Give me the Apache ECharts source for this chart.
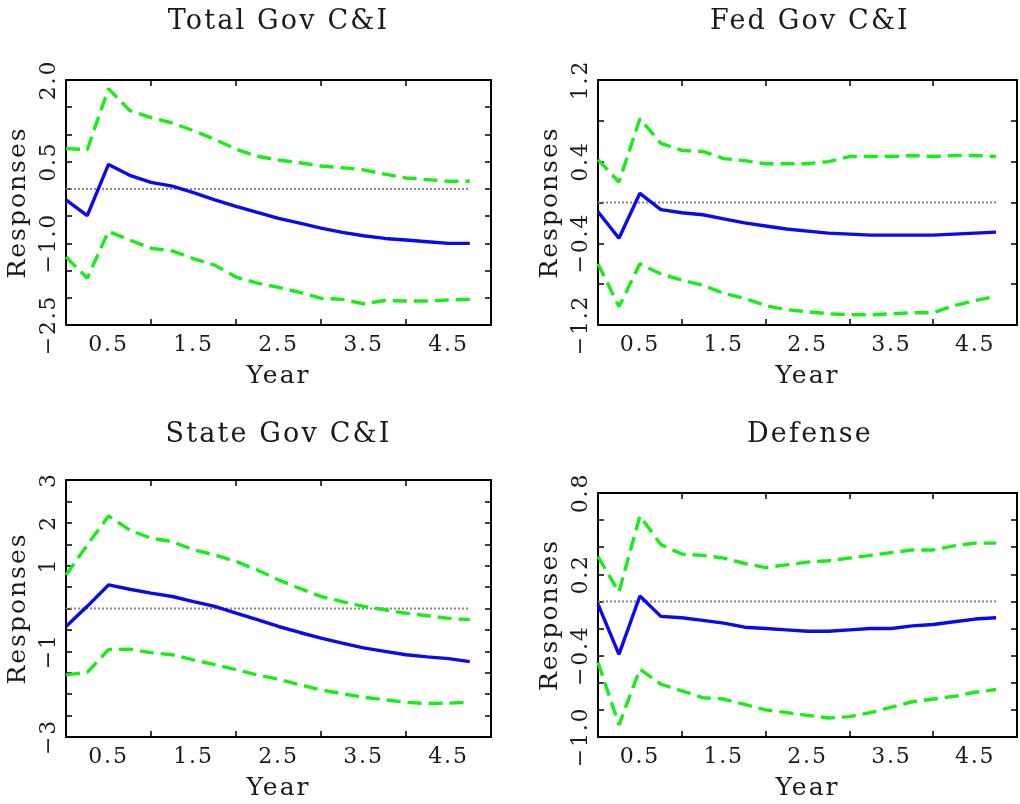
<!DOCTYPE html>
<html>
<head>
<meta charset="utf-8">
<script src="https://cdn.jsdelivr.net/npm/echarts@6/dist/echarts.min.js"></script>
<style>
  html, body { margin: 0; padding: 0; background: #ffffff; }
  #chart { width: 1020px; height: 804px; }
</style>
</head>
<body>
<div id="chart"></div>
<script>
// Quarterly horizon (years after the shock)
const quarters = [0, 0.25, 0.5, 0.75, 1, 1.25, 1.5, 1.75, 2, 2.25, 2.5, 2.75, 3, 3.25, 3.5, 3.75, 4, 4.25, 4.5, 4.75];

const panelTitles = ['Total Gov C&I', 'Fed Gov C&I', 'State Gov C&I', 'Defense'];

// Total government consumption & investment
const totalMid   = [-0.20, -0.49, 0.45, 0.25, 0.12, 0.05, -0.07, -0.20, -0.32, -0.43, -0.54, -0.63, -0.72, -0.80, -0.86, -0.91, -0.94, -0.97, -1.00, -1.00];
const totalUpper = [0.74, 0.72, 1.84, 1.44, 1.31, 1.21, 1.07, 0.91, 0.73, 0.60, 0.53, 0.48, 0.42, 0.39, 0.35, 0.27, 0.20, 0.17, 0.14, 0.14];
const totalLower = [-1.25, -1.64, -0.78, -0.94, -1.09, -1.14, -1.28, -1.40, -1.62, -1.73, -1.81, -1.90, -2.01, -2.03, -2.11, -2.05, -2.06, -2.06, -2.04, -2.03];

// Federal government consumption & investment
const fedMid   = [-0.09, -0.35, 0.09, -0.07, -0.10, -0.12, -0.16, -0.20, -0.23, -0.26, -0.28, -0.30, -0.31, -0.32, -0.32, -0.32, -0.32, -0.31, -0.30, -0.29];
const fedUpper = [0.42, 0.20, 0.82, 0.58, 0.51, 0.50, 0.43, 0.41, 0.38, 0.38, 0.38, 0.40, 0.45, 0.45, 0.45, 0.46, 0.45, 0.46, 0.46, 0.45];
const fedLower = [-0.60, -1.02, -0.60, -0.70, -0.76, -0.81, -0.89, -0.94, -1.01, -1.05, -1.07, -1.09, -1.10, -1.10, -1.09, -1.08, -1.08, -1.01, -0.96, -0.92];

// State government consumption & investment
const stateMid   = [-0.42, 0.05, 0.55, 0.45, 0.36, 0.28, 0.16, 0.05, -0.11, -0.26, -0.42, -0.56, -0.69, -0.81, -0.92, -1.00, -1.08, -1.13, -1.17, -1.24];
const stateUpper = [0.78, 1.48, 2.16, 1.83, 1.64, 1.56, 1.37, 1.25, 1.10, 0.90, 0.67, 0.47, 0.28, 0.16, 0.05, -0.03, -0.11, -0.17, -0.23, -0.26];
const stateLower = [-1.55, -1.49, -0.96, -0.95, -1.03, -1.08, -1.20, -1.31, -1.43, -1.55, -1.65, -1.78, -1.90, -1.99, -2.07, -2.13, -2.19, -2.22, -2.21, -2.19];

// Defense spending
const defMid   = [-0.02, -0.39, 0.04, -0.11, -0.12, -0.14, -0.16, -0.19, -0.20, -0.21, -0.22, -0.22, -0.21, -0.20, -0.20, -0.18, -0.17, -0.15, -0.13, -0.12];
const defUpper = [0.33, 0.07, 0.63, 0.42, 0.35, 0.34, 0.32, 0.28, 0.25, 0.27, 0.29, 0.30, 0.32, 0.34, 0.36, 0.38, 0.38, 0.41, 0.43, 0.43];
const defLower = [-0.45, -0.91, -0.50, -0.61, -0.66, -0.71, -0.72, -0.76, -0.80, -0.82, -0.84, -0.86, -0.85, -0.82, -0.78, -0.74, -0.72, -0.70, -0.67, -0.65];

// Tick labels
const xTickLabels = [0.5, 1.5, 2.5, 3.5, 4.5];
const totalYTickLabels = [-2.5, -1.0, 0.5, 2.0];
const fedYTickLabels   = [-1.2, -0.4, 0.4, 1.2];
const stateYTickLabels = [-3, -1, 1, 2, 3];
const defYTickLabels   = [-1.0, -0.4, 0.2, 0.8];

// Slightly open letter spacing for all canvas text (plotter-style lettering)
(function () {
  const P = CanvasRenderingContext2D.prototype;
  if (!('letterSpacing' in P)) return;
  const spacing = ctx => {
    const m = /(\d+(?:\.\d+)?)px/.exec(ctx.font);
    return m ? (parseFloat(m[1]) * 0.08).toFixed(2) + 'px' : '0px';
  };
  const fill = P.fillText, measure = P.measureText;
  P.fillText = function (t, x, y, w) {
    this.letterSpacing = spacing(this);
    return w === undefined ? fill.call(this, t, x, y) : fill.call(this, t, x, y, w);
  };
  P.measureText = function (t) {
    this.letterSpacing = spacing(this);
    return measure.call(this, t);
  };
})();

const FONT = 'DejaVu Serif';
const INK = '#1a1a1a';
const BLUE = '#0a0af2';
const GREEN = '#16ee16';

const panels = [
  { title: panelTitles[0], mid: totalMid, up: totalUpper, lo: totalLower,
    rect: { left: 66, top: 80, width: 425, height: 245 }, titleTop: 7,
    y: { min: -2.5, max: 2.0, interval: 0.5, labels: totalYTickLabels, dec: 1 } },
  { title: panelTitles[1], mid: fedMid, up: fedUpper, lo: fedLower,
    rect: { left: 598, top: 80, width: 424, height: 245 }, titleTop: 7,
    y: { min: -1.2, max: 1.2, interval: 0.4, labels: fedYTickLabels, dec: 1 } },
  { title: panelTitles[2], mid: stateMid, up: stateUpper, lo: stateLower,
    rect: { left: 66, top: 480, width: 425, height: 257 }, titleTop: 420,
    y: { min: -3, max: 3, interval: 0.5, labels: stateYTickLabels, dec: 0 } },
  { title: panelTitles[3], mid: defMid, up: defUpper, lo: defLower,
    rect: { left: 598, top: 493, width: 424, height: 244 }, titleTop: 420,
    y: { min: -1.0, max: 0.8, interval: 0.2, labels: defYTickLabels, dec: 1 } }
];

function pick(list, v) {
  for (const t of list) if (Math.abs(t - v) < 1e-6) return t;
  return null;
}
function fmt(v, dec) {
  const s = Math.abs(v).toFixed(dec);
  return v < 0 ? '\u2212' + s : s;
}
function pairs(vals) {
  return quarters.map((q, i) => [q, vals[i]]);
}

const boxLine = { show: true, onZero: false, lineStyle: { color: '#000', width: 2 } };
const inTick = { show: true, inside: true, length: 6, lineStyle: { color: '#000', width: 1.5 } };

const option = {
  animation: false,
  backgroundColor: '#ffffff',
  title: [], grid: [], xAxis: [], yAxis: [], series: []
};

panels.forEach((p, i) => {
  const r = p.rect;
  option.grid.push({ left: r.left, top: r.top, width: r.width, height: r.height, containLabel: false });
  option.title.push({
    text: p.title, left: r.left + r.width / 2, top: p.titleTop, textAlign: 'center', padding: 0,
    textStyle: { fontFamily: FONT, fontSize: 27, fontWeight: 'normal', color: INK }
  });

  // x axes: integer ticks at bottom, half-year labels, integer ticks on top
  option.xAxis.push({
    gridIndex: i, type: 'value', position: 'bottom', min: 0, max: 5, interval: 1,
    axisLine: boxLine, axisTick: inTick, axisLabel: { show: false }, splitLine: { show: false }
  });
  option.xAxis.push({
    gridIndex: i, type: 'value', position: 'bottom', min: 0, max: 5, interval: 0.5,
    axisLine: { show: false, onZero: false }, axisTick: { show: false }, splitLine: { show: false },
    axisLabel: {
      margin: 8, fontFamily: FONT, fontSize: 22, color: INK,
      formatter: v => { const t = pick(xTickLabels, v); return t === null ? '' : t.toFixed(1); }
    },
    name: 'Year', nameLocation: 'middle', nameGap: 38,
    nameTextStyle: { fontFamily: FONT, fontSize: 25, color: INK }
  });
  option.xAxis.push({
    gridIndex: i, type: 'value', position: 'top', min: 0, max: 5, interval: 1,
    axisLine: boxLine, axisTick: inTick, axisLabel: { show: false }, splitLine: { show: false }
  });

  // y axes: labelled left side, ticks only on the right
  option.yAxis.push({
    gridIndex: i, type: 'value', position: 'left', min: p.y.min, max: p.y.max, interval: p.y.interval,
    axisLine: boxLine, axisTick: inTick, splitLine: { show: false },
    axisLabel: {
      rotate: 90, margin: 5, fontFamily: FONT, fontSize: 22, color: INK,
      formatter: v => { const t = pick(p.y.labels, v); return t === null ? '' : fmt(t, p.y.dec); }
    },
    name: 'Responses', nameLocation: 'middle', nameGap: 34, nameRotate: 90,
    nameTextStyle: { fontFamily: FONT, fontSize: 25, color: INK }
  });
  option.yAxis.push({
    gridIndex: i, type: 'value', position: 'right', min: p.y.min, max: p.y.max, interval: p.y.interval,
    axisLine: boxLine, axisTick: inTick, axisLabel: { show: false }, splitLine: { show: false }
  });

  const xi = i * 3, yi = i * 2;
  option.series.push({
    type: 'line', xAxisIndex: xi, yAxisIndex: yi, showSymbol: false, symbol: 'none', silent: true,
    data: [[quarters[0], 0], [quarters[quarters.length - 1], 0]],
    lineStyle: { color: '#858585', width: 2, type: [2, 2] }, z: 2
  });
  option.series.push({
    type: 'line', xAxisIndex: xi, yAxisIndex: yi, showSymbol: false, symbol: 'none', silent: true,
    data: pairs(p.up), lineStyle: { color: GREEN, width: 3.4, type: [14, 7] }, z: 3
  });
  option.series.push({
    type: 'line', xAxisIndex: xi, yAxisIndex: yi, showSymbol: false, symbol: 'none', silent: true,
    data: pairs(p.lo), lineStyle: { color: GREEN, width: 3.4, type: [14, 7] }, z: 3
  });
  option.series.push({
    type: 'line', xAxisIndex: xi, yAxisIndex: yi, showSymbol: false, symbol: 'none', silent: true,
    data: pairs(p.mid), lineStyle: { color: BLUE, width: 3.4 }, z: 4
  });
});

const chart = echarts.init(document.getElementById('chart'), null, { renderer: 'canvas' });
chart.setOption(option);
</script>
</body>
</html>
